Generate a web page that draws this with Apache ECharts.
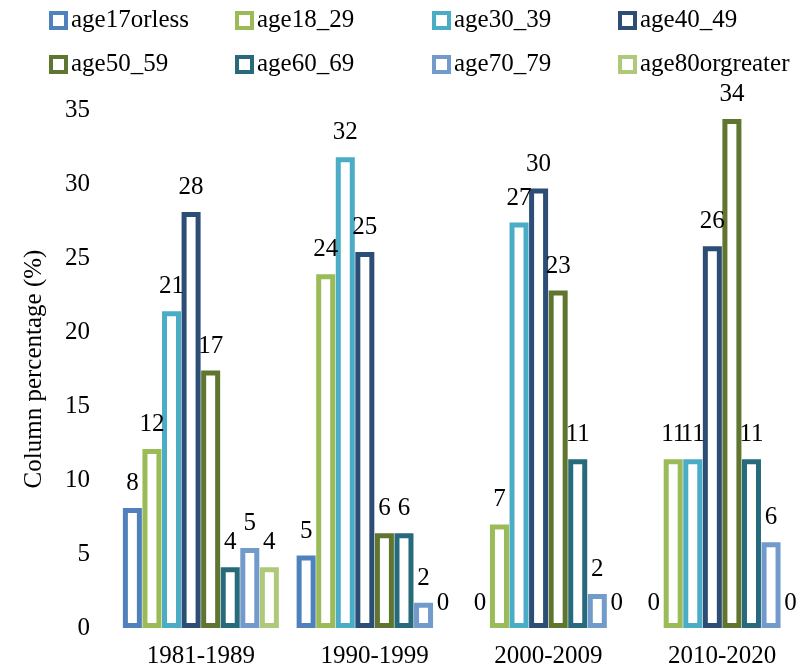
<!DOCTYPE html>
<html>
<head>
<meta charset="utf-8">
<script src="https://cdn.jsdelivr.net/npm/echarts@6/dist/echarts.min.js"></script>
<style>
  html, body { margin: 0; padding: 0; background: #fff; }
  #chart { width: 809px; height: 672px; }
</style>
</head>
<body>
<div id="chart"></div>
<script>
// Share of each age group per period (column percentages)
const periods = ['1981-1989', '1990-1999', '2000-2009', '2010-2020'];
const groupNames = ['age17orless', 'age18_29', 'age30_39', 'age40_49',
                    'age50_59', 'age60_69', 'age70_79', 'age80orgreater'];
const age17orless    = [8.1, 4.9, 0, 0];
const age18_29       = [12.1, 23.9, 7.0, 11.4];
const age30_39       = [21.4, 31.8, 27.4, 11.4];
const age40_49       = [28.1, 25.4, 29.7, 25.8];
const age50_59       = [17.4, 6.4, 22.8, 34.4];
const age60_69       = [4.1, 6.4, 11.4, 11.4];
const age70_79       = [5.4, 1.7, 2.3, 5.8];
const age80orgreater = [4.1, 0, 0, 0];
const yTicks = { min: 0, max: 35, step: 5 };

const groupValues = [age17orless, age18_29, age30_39, age40_49,
                     age50_59, age60_69, age70_79, age80orgreater];
const palette = ['#4F81BD', '#9BBB59', '#4BACC6', '#2C4D75',
                 '#5F7530', '#276A7C', '#729ACA', '#AFC97A'];
const FONT = '"Liberation Serif", "Times New Roman", serif';
const FS = 25;

const series = groupNames.map((name, i) => ({
  name: name,
  type: 'bar',
  barWidth: 19,
  barGap: '3%',
  itemStyle: { color: '#ffffff', borderColor: palette[i], borderWidth: 5 },
  label: {
    show: true,
    position: 'top',
    distance: 12,
    color: '#000',
    fontFamily: FONT,
    fontSize: FS,
    formatter: p => String(Math.round(p.value))
  },
  // empty columns get no outline so nothing is stroked along the baseline
  data: groupValues[i].map(v => v === 0 ? { value: v, itemStyle: { borderWidth: 0 } } : v)
}));

// one legend per entry so the two rows line up as columns
const legendCols = [44, 230, 427, 613];
const legendRows = [3, 47];
const legends = groupNames.map((name, i) => ({
  data: [name],
  left: legendCols[i % 4],
  top: legendRows[Math.floor(i / 4)],
  icon: 'rect',
  itemWidth: 15,
  itemHeight: 15,
  itemGap: 0,
  itemStyle: { color: '#ffffff', borderColor: palette[i], borderWidth: 4 },
  textStyle: { fontFamily: FONT, fontSize: FS, color: '#000' },
  selectedMode: false
}));

const chart = echarts.init(document.getElementById('chart'), null, { renderer: 'canvas' });
chart.setOption({
  animation: false,
  backgroundColor: '#ffffff',
  legend: legends,
  grid: { left: 114, width: 697, top: 110, bottom: 44, containLabel: false },
  xAxis: {
    type: 'category',
    data: periods,
    axisLine: { show: false },
    axisTick: { show: false },
    axisLabel: { fontFamily: FONT, fontSize: FS, color: '#000', margin: 16 }
  },
  yAxis: {
    type: 'value',
    min: yTicks.min,
    max: yTicks.max,
    interval: yTicks.step,
    name: 'Column percentage (%)',
    nameLocation: 'middle',
    nameGap: 67,
    nameTextStyle: { fontFamily: FONT, fontSize: FS, color: '#000' },
    axisLine: { show: false },
    axisTick: { show: false },
    splitLine: { show: false },
    axisLabel: { fontFamily: FONT, fontSize: FS, color: '#000', margin: 24 }
  },
  series: series
});
</script>
</body>
</html>
